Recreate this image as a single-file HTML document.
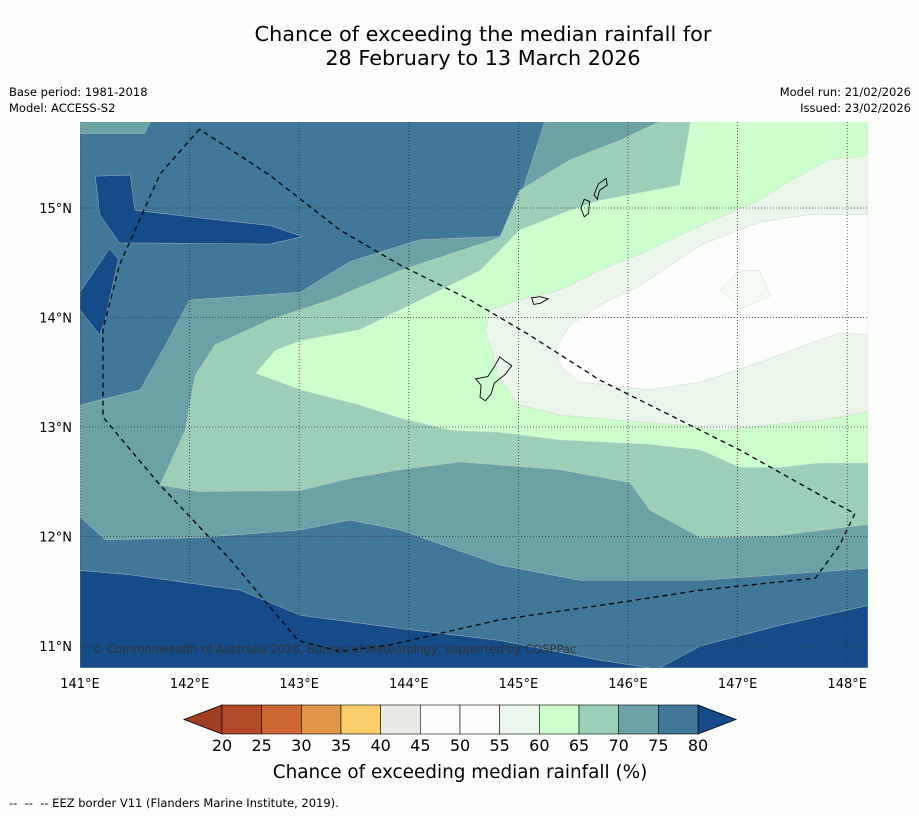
<!DOCTYPE html>
<html><head><meta charset="utf-8">
<style>
body{margin:0;background:#fcfefc;font-family:"DejaVu Sans","Liberation Sans",sans-serif;}
#wrap{position:relative;width:919px;height:816px;overflow:hidden;background:#fcfefc;}
.t{position:absolute;color:#000;}
</style></head>
<body>
<div id="wrap">
<div class="t" style="left:0;width:966px;top:22px;text-align:center;font-size:20.8px;line-height:24px;">Chance of exceeding the median rainfall for<br>28 February to 13 March 2026</div>
<div class="t" style="left:9px;top:84px;font-size:11.5px;line-height:16px;">Base period: 1981-2018<br>Model: ACCESS-S2</div>
<div class="t" style="right:8px;top:84px;font-size:11.5px;line-height:16px;text-align:right;">Model run: 21/02/2026<br>Issued: 23/02/2026</div>
<svg id="map" width="919" height="816" style="position:absolute;left:0;top:0"></svg>
<div class="t" style="left:9px;top:796px;font-size:11.5px;">--&nbsp; --&nbsp; -- EEZ border V11 (Flanders Marine Institute, 2019).</div>
</div>
<script>
const lonTicks=[141,142,143,144,145,146,147,148];
const latTicks=[11,12,13,14,15];
const cbLevels=[20,25,30,35,40,45,50,55,60,65,70,75,80];
const cbColors=["#b34a25","#cc6633","#e29447","#fdcf6a","#e9e9e6","#fefefe","#fefefe","#eaf6ea","#ccffcc","#9ccfb8","#6ba2a6","#3f7898"];
const baseColor="#3f7898";
const dark1=[[141,11.69],[141.46,11.65],[142.46,11.51],[143.01,11.28],[143.92,11.16],[144.83,11.05],[145.74,10.87],[146.2,10.8],[141,10.8]];
const dark2=[[146.29,10.8],[146.66,11.0],[147.39,11.19],[148.19,11.37],[148.19,10.8]];
const dark3=[[141.14,15.29],[141.46,15.3],[141.5,14.98],[142.09,14.91],[142.73,14.84],[143.03,14.74],[142.73,14.67],[141.64,14.68],[141.36,14.68],[141.18,14.94]];
const dark4=[[141,14.23],[141.27,14.63],[141.35,14.53],[141.23,13.98],[141.18,13.84],[141,14.07]];
const c70=[[141,13.2],[141.55,13.34],[141.78,13.75],[142.0,14.16],[143.01,14.23],[143.46,14.51],[144.1,14.71],[144.83,14.74],[145.01,15.07],[145.24,15.79],[148.19,15.79],[148.19,11.71],[146.66,11.6],[145.56,11.6],[144.83,11.74],[143.92,12.06],[143.46,12.15],[143.01,12.06],[142.09,11.99],[141.23,11.97],[141,12.18]];
const c70b=[[141,15.79],[141.64,15.79],[141.59,15.68],[141,15.68]];
const c65=[[141.73,12.47],[141.96,12.97],[142.05,13.47],[142.23,13.75],[142.73,13.98],[143.28,14.16],[143.92,14.43],[144.83,14.73],[145.01,15.16],[145.47,15.44],[145.93,15.62],[146.29,15.79],[148.19,15.79],[148.19,12.11],[147.39,12.01],[146.66,11.99],[146.2,12.24],[146.02,12.49],[145.38,12.61],[144.47,12.68],[143.92,12.61],[143.46,12.53],[143.01,12.42],[142.09,12.41]];
const c60=[[142.6,13.49],[142.78,13.7],[143.01,13.79],[143.55,13.89],[144.1,14.16],[144.65,14.43],[145.01,14.8],[145.47,14.98],[145.74,15.07],[146.47,15.21],[146.57,15.79],[148.19,15.79],[148.19,12.67],[147.75,12.67],[147.39,12.63],[147.02,12.63],[146.66,12.79],[146.2,12.84],[145.38,12.88],[144.83,12.95],[144.38,12.97],[143.92,13.08],[143.55,13.2],[143.01,13.34]];
const c55=[[144.7,13.89],[144.74,14.07],[145.01,14.16],[145.38,14.25],[145.74,14.43],[146.2,14.62],[146.66,14.84],[147.2,15.07],[147.48,15.25],[147.84,15.44],[148.19,15.48],[148.19,13.14],[147.75,13.06],[147.3,13.02],[146.84,12.97],[146.47,13.02],[145.93,13.06],[145.38,13.11],[145.01,13.2],[144.83,13.43]];
const c50=[[145.33,13.7],[145.47,13.93],[145.74,14.11],[146.11,14.29],[146.66,14.66],[147.2,14.87],[147.66,14.94],[148.19,14.94],[148.19,13.84],[147.93,13.86],[147.57,13.73],[147.2,13.59],[146.66,13.41],[146.2,13.34],[145.56,13.41],[145.4,13.54]];
const c55b=[[146.84,14.25],[147.02,14.43],[147.2,14.43],[147.3,14.2],[147.03,14.08]];
const eez=[[142.09,15.72],[141.73,15.31],[141.36,14.48],[141.21,13.89],[141.21,13.09],[141.73,12.47],[142.37,11.79],[142.99,11.05],[143.37,10.95],[143.83,11.01],[144.83,11.24],[145.74,11.37],[146.66,11.51],[147.71,11.62],[147.93,11.92],[148.07,12.21],[147.84,12.33],[147.02,12.79],[145.74,13.43],[145.1,13.84],[144.56,14.16],[143.92,14.48],[143.37,14.8],[142.73,15.3],[142.09,15.72]];
const guam=[[144.61,13.44],[144.72,13.46],[144.78,13.55],[144.83,13.64],[144.88,13.6],[144.94,13.56],[144.88,13.48],[144.78,13.4],[144.75,13.3],[144.7,13.24],[144.65,13.27],[144.66,13.38]];
const rota=[[145.12,14.18],[145.2,14.19],[145.27,14.17],[145.2,14.13],[145.14,14.12]];
const saipan=[[145.69,15.12],[145.73,15.22],[145.8,15.27],[145.81,15.21],[145.74,15.16],[145.72,15.08]];
const tinian=[[145.57,15.0],[145.6,15.08],[145.65,15.06],[145.64,14.95],[145.6,14.92]];

const FONT="DejaVu Sans, Liberation Sans, sans-serif";
const X0=80,X1=868,Y0=122,Y1=668;
const xs=lon=>80+(lon-141)*109.6;
const ys=lat=>208+(15-lat)*109.5;
const NS="http://www.w3.org/2000/svg";
const svg=document.getElementById('map');
function mk(tag,attrs,parent){const e=document.createElementNS(NS,tag);for(const k in attrs)e.setAttribute(k,attrs[k]);(parent||svg).appendChild(e);return e;}
const pts=a=>a.map(p=>xs(p[0]).toFixed(1)+","+ys(p[1]).toFixed(1)).join(" ");
const clip=mk('clipPath',{id:'clip'});
mk('rect',{x:X0,y:Y0,width:X1-X0,height:Y1-Y0},clip);
const g=mk('g',{'clip-path':'url(#clip)'});
let r=mk('rect',{x:X0,y:Y0,width:X1-X0,height:Y1-Y0,fill:baseColor},g);


const layers=[[c70,cbColors[10],'contour-70'],[c70b,cbColors[10],'contour-70-top'],[c65,cbColors[9],'contour-65'],[c60,cbColors[8],'contour-60'],[c55,cbColors[7],'contour-55'],[c50,"#fcfefc",'contour-50'],[c55b,"#f6faf4",'contour-55-small'],[dark1,"#134c89",'contour-80-south'],[dark2,"#134c89",'contour-80-southeast'],[dark3,"#134c89",'contour-80-north'],[dark4,"#134c89",'contour-80-west']];
layers.forEach(L=>{
 const p=mk('polygon',{points:pts(L[0]),fill:L[1],stroke:'#c8ccc8','stroke-width':0.4},g);
 
 
});
lonTicks.forEach(v=>{const l=mk('line',{x1:xs(v),x2:xs(v),y1:Y0,y2:Y1,stroke:'#333','stroke-width':0.8,'stroke-dasharray':'1,2'},g);

});
latTicks.forEach(v=>{const l=mk('line',{x1:X0,x2:X1,y1:ys(v),y2:ys(v),stroke:'#333','stroke-width':0.8,'stroke-dasharray':'1,2'},g);

});
[[guam,'guam'],[rota,'rota'],[saipan,'saipan'],[tinian,'tinian']].forEach(I=>{
 const p=mk('polygon',{points:pts(I[0]),fill:'none',stroke:'#000','stroke-width':0.9},g);
 
 
});
const e=mk('polyline',{points:pts(eez),fill:'none',stroke:'#000','stroke-width':1.3,'stroke-dasharray':'5,4'},g);


const cp=mk('text',{x:92,y:653,'font-size':11.5,fill:'#333','font-family':FONT},g);
cp.textContent="© Commonwealth of Australia 2026, Bureau of Meteorology, supported by COSPPac";


lonTicks.forEach(v=>{const t=mk('text',{x:xs(v),y:688,'text-anchor':'middle','font-size':13,'font-family':FONT});t.textContent=v+"°E";

});
latTicks.forEach(v=>{const t=mk('text',{x:72,y:ys(v)+5,'text-anchor':'end','font-size':13,'font-family':FONT});t.textContent=v+"°N";

});
const cbX0=222,cbX1=698,cbY=705,cbH=29,n=cbColors.length,w=(cbX1-cbX0)/n;
const lt=mk('polygon',{points:`${cbX0},${cbY} 184,${cbY+cbH/2} ${cbX0},${cbY+cbH}`,fill:'#a13e20',stroke:'#000','stroke-width':0.8});


const rt=mk('polygon',{points:`${cbX1},${cbY} 736,${cbY+cbH/2} ${cbX1},${cbY+cbH}`,fill:'#134c89',stroke:'#000','stroke-width':0.8});


cbColors.forEach((c,i)=>{const s=mk('rect',{x:cbX0+i*w,y:cbY,width:w,height:cbH,fill:c,stroke:'#000','stroke-width':0.6});

});
cbLevels.forEach((v,i)=>{const t=mk('text',{x:cbX0+i*w,y:751,'text-anchor':'middle','font-size':16,'font-family':FONT});t.textContent=v;

});
const ct=mk('text',{x:460,y:778,'text-anchor':'middle','font-size':18.4,'font-family':FONT});
ct.textContent="Chance of exceeding median rainfall (%)";


</script>
</body></html>
